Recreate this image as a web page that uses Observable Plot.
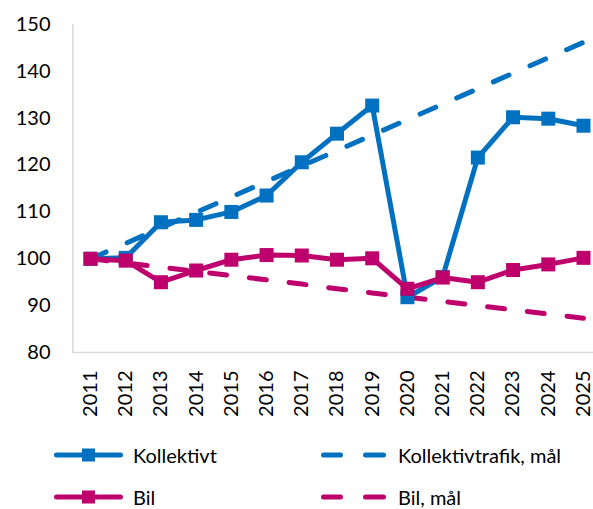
<!DOCTYPE html>
<html>
<head>
<meta charset="utf-8">
<script src="https://cdn.jsdelivr.net/npm/d3@7"></script>
<script src="https://cdn.jsdelivr.net/npm/@observablehq/plot@0.6"></script>
<style>
  html, body { margin: 0; padding: 0; background: #fff; }
  body { font-family: Lato, "Open Sans", sans-serif; }
  #wrap { position: relative; width: 593px; height: 509px; overflow: hidden; }
  #chart { position: absolute; left: 0; top: 0; }
  .leg { position: absolute; display: flex; align-items: center; font-size: 20px; line-height: 20px; color: #000; white-space: nowrap; }
  .leg svg { display: block; }
</style>
</head>
<body>
<div id="wrap">
  <div id="chart"></div>
</div>
<script>
const years = [2011, 2012, 2013, 2014, 2015, 2016, 2017, 2018, 2019, 2020, 2021, 2022, 2023, 2024, 2025];
const kollektivt = [100, 100.2, 107.8, 108.3, 110.0, 113.5, 120.6, 126.7, 132.7, 91.8, 96.1, 121.6, 130.2, 129.9, 128.4];
const bil = [100, 99.6, 95.0, 97.5, 99.8, 100.8, 100.7, 99.8, 100.1, 93.6, 96.0, 95.0, 97.6, 98.8, 100.2];
const kollektivMal = [100, 103.3, 106.6, 109.9, 113.2, 116.5, 119.8, 123.1, 126.4, 129.7, 133.0, 136.3, 139.6, 142.9, 146.2];
const bilMal = [100, 99.1, 98.2, 97.3, 96.4, 95.5, 94.6, 93.6, 92.7, 91.8, 90.9, 90.0, 89.1, 88.2, 87.3];
const yTicks = [80, 90, 100, 110, 120, 130, 140, 150];

const seriesNames = ["Kollektivt", "Bil", "Kollektivtrafik, mål", "Bil, mål"];
const blue = "#0070C0";
const pink = "#BE006C";

const rows = (vals) => years.map((yr, i) => ({year: yr, value: vals[i]}));
const kRows = rows(kollektivt), bRows = rows(bil), kmRows = rows(kollektivMal), bmRows = rows(bilMal);

const axisColor = "#d9d9d9";
const chart = Plot.plot({
  width: 593,
  height: 425,
  marginTop: 24,
  marginBottom: 73,
  marginLeft: 72,
  marginRight: 0,
  style: {fontFamily: "Lato, 'Open Sans', sans-serif", fontSize: "20px", color: "#000", background: "#fff"},
  x: {domain: [2011, 2025], range: [90, 583], ticks: years, tickFormat: d => String(d), tickRotate: -90, tickSize: 0, tickPadding: 18, label: null},
  y: {domain: [80, 150], ticks: yTicks, tickSize: 0, tickPadding: 22, label: null},
  marks: [
    Plot.ruleY([80], {stroke: axisColor, strokeWidth: 1.5}),
    Plot.ruleX([2010.5], {y1: 80, y2: 150, stroke: axisColor, strokeWidth: 1.5}),
    Plot.line(kmRows, {x: "year", y: "value", stroke: blue, strokeWidth: 5, strokeDasharray: "17,23", strokeLinecap: "round"}),
    Plot.line(bmRows, {x: "year", y: "value", stroke: pink, strokeWidth: 5, strokeDasharray: "17,23", strokeLinecap: "round"}),
    Plot.line(kRows, {x: "year", y: "value", stroke: blue, strokeWidth: 5, strokeLinejoin: "round"}),
    Plot.dot(kRows, {x: "year", y: "value", symbol: "square", fill: blue, r: 7.9}),
    Plot.line(bRows, {x: "year", y: "value", stroke: pink, strokeWidth: 5, strokeLinejoin: "round"}),
    Plot.dot(bRows, {x: "year", y: "value", symbol: "square", fill: pink, r: 7.9})
  ]
});
document.getElementById("chart").appendChild(chart);

// Legend
const wrap = document.getElementById("wrap");
const legendItems = [
  {name: seriesNames[0], color: blue, dashed: false, left: 54, top: 455},
  {name: seriesNames[2], color: blue, dashed: true, left: 321, top: 455},
  {name: seriesNames[1], color: pink, dashed: false, left: 54, top: 497},
  {name: seriesNames[3], color: pink, dashed: true, left: 321, top: 497}
];
for (const it of legendItems) {
  const d = document.createElement("div");
  d.className = "leg";
  d.style.left = it.left + "px";
  d.style.top = (it.top - 10) + "px";
  d.style.height = "20px";
  let sw;
  if (!it.dashed) {
    sw = `<svg width="79" height="20"><line x1="2.5" y1="10" x2="66.5" y2="10" stroke="${it.color}" stroke-width="5" stroke-linecap="round"/><rect x="28" y="3.5" width="13" height="13" fill="${it.color}"/></svg>`;
  } else {
    sw = `<svg width="77" height="20"><line x1="2.5" y1="10" x2="19.5" y2="10" stroke="${it.color}" stroke-width="5" stroke-linecap="round"/><line x1="44.5" y1="10" x2="62.5" y2="10" stroke="${it.color}" stroke-width="5" stroke-linecap="round"/></svg>`;
  }
  d.innerHTML = sw + `<span>${it.name}</span>`;
  wrap.appendChild(d);
}
</script>
</body>
</html>
